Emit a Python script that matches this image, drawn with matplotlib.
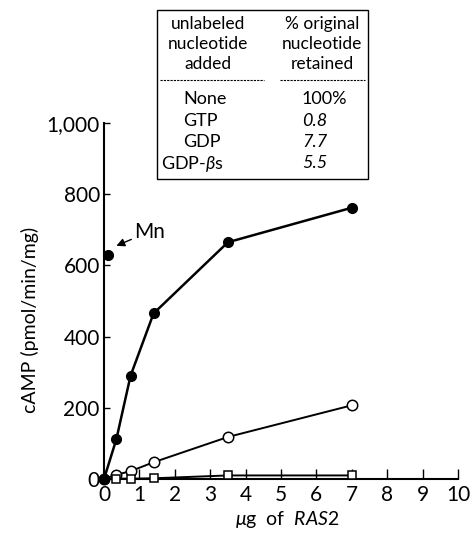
import matplotlib
matplotlib.use("Agg")
import matplotlib.pyplot as plt
from matplotlib.patches import Rectangle
from matplotlib.lines import Line2D

plt.rcParams['font.family'] = ['Lato', 'DejaVu Sans']
plt.rcParams['mathtext.fontset'] = 'custom'
plt.rcParams['mathtext.rm'] = 'Lato'
plt.rcParams['mathtext.it'] = 'Lato:italic'

# ---- data ----
ras2_ug = [0.0, 0.35, 0.75, 1.4, 3.5, 7.0]
camp_filled = [0, 112, 290, 465, 665, 762]
open_x = [0.0, 0.35, 0.75, 1.4, 3.5, 7.0]
camp_open = [0, 12, 22, 47, 118, 207]
square_x = [0.35, 0.75, 1.4, 3.5, 7.0]
camp_square = [1, 1, 2, 10, 10]
mn_x = [0.1]
mn_y = [630]

xticks = list(range(0, 11))
yticks = [0, 200, 400, 600, 800, 1000]
ytick_labels = ["0", "200", "400", "600", "800", "1,000"]

table_col1_header = ["unlabeled", "nucleotide", "added"]
table_col2_header = ["% original", "nucleotide", "retained"]
table_nucleotides = ["None", "GTP", "GDP", r"GDP-$\beta$s"]
table_retained = ["100%", "0.8", "7.7", "5.5"]

W, H = 471, 536
fig = plt.figure(figsize=(W / 100, H / 100), dpi=100)

def fx(px):
    return px / W

def fy(py):
    return 1 - py / H

ax = fig.add_axes([fx(104), fy(479), (458 - 104) / W, (479 - 123) / H])

ax.plot(ras2_ug, camp_filled, color='black', lw=1.8, marker='o', ms=7,
        mfc='black', mec='black', clip_on=False, zorder=4)
ax.plot(open_x, camp_open, color='black', lw=1.4, marker='o', ms=7.5,
        mfc='white', mec='black', mew=1.1, clip_on=False, zorder=3)
ax.plot(square_x, camp_square, color='black', lw=1.4, marker='s', ms=6,
        mfc='white', mec='black', mew=1.1, clip_on=False, zorder=3)
ax.plot(mn_x, mn_y, linestyle='none', marker='o', ms=7, mfc='black',
        mec='black', clip_on=False, zorder=4)

ax.annotate("Mn", xy=(0.35, 655), xytext=(0.85, 695), fontsize=15,
            ha='left', va='center',
            arrowprops=dict(arrowstyle='-|>', color='black', lw=1.0,
                            mutation_scale=12, shrinkA=0, shrinkB=0))

ax.set_xlim(0, 10)
ax.set_ylim(0, 1000)
ax.set_xticks(xticks)
ax.set_xticklabels([str(t) for t in xticks])
ax.set_yticks(yticks)
ax.set_yticklabels(ytick_labels)
ax.tick_params(axis='x', direction='in', length=7, width=1, labelsize=15, pad=4)
ax.tick_params(axis='y', direction='in', length=4, width=1, labelsize=15, pad=3)
for s in ['top', 'right']:
    ax.spines[s].set_visible(False)
for s in ['left', 'bottom']:
    ax.spines[s].set_linewidth(1.5)

fig.text(fx(287), fy(520), r"$\mu$g  of  $\mathit{RAS2}$", ha='center',
         va='center', fontsize=14)
fig.text(fx(30), fy(320), "cAMP (pmol/min/mg)", rotation=90, ha='center',
         va='center', fontsize=14)

# ---- inset table ----
box = Rectangle((fx(157), fy(179)), fx(368) - fx(157), fy(10) - fy(179),
                transform=fig.transFigure, fill=False, edgecolor='black',
                lw=1.0, zorder=5)
fig.add_artist(box)
fig.add_artist(Line2D([fx(160), fx(264)], [fy(80), fy(80)],
                      transform=fig.transFigure, color='black', lw=0.8,
                      linestyle=(0, (2, 1))))
fig.add_artist(Line2D([fx(280), fx(365)], [fy(80), fy(80)],
                      transform=fig.transFigure, color='black', lw=0.8,
                      linestyle=(0, (2, 1))))

for i, t in enumerate(table_col1_header):
    fig.text(fx(208), fy(24 + 20 * i), t, ha='center', va='center', fontsize=12.5)
for i, t in enumerate(table_col2_header):
    fig.text(fx(322), fy(24 + 20 * i), t, ha='center', va='center', fontsize=12.5)
for i, (n, r) in enumerate(zip(table_nucleotides, table_retained)):
    yy = fy(99 + 21.5 * i)
    if i < 3:
        fig.text(fx(183), yy, n, ha='left', va='center', fontsize=13)
    else:
        fig.text(fx(161), yy, n, ha='left', va='center', fontsize=13)
    fig.text(fx(302), yy, r, ha='left', va='center', fontsize=13, style='italic'
             if i > 0 else 'normal')

fig.savefig("out.png", dpi=100)
